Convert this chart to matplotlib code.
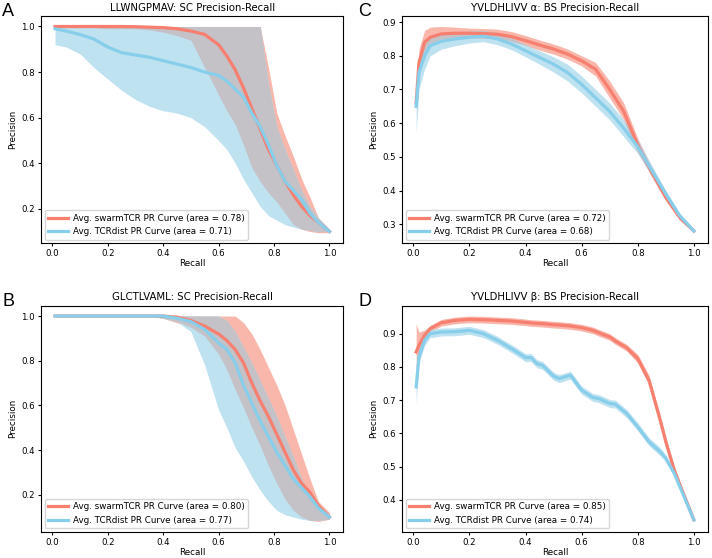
import numpy as np
import matplotlib
matplotlib.use("Agg")
import matplotlib.pyplot as plt

# ---- panel A: LLWNGPMAV (SC) ----
rec_a = [0.01, 0.05, 0.1, 0.15, 0.2, 0.25, 0.3, 0.35, 0.4, 0.45, 0.5, 0.55,
         0.6, 0.63, 0.66, 0.69, 0.72, 0.75, 0.78, 0.81, 0.84, 0.87, 0.9, 0.93, 0.96, 1.0]
swarm_a = [1.0, 1.0, 1.0, 1.0, 1.0, 1.0, 0.999, 0.997, 0.995, 0.99, 0.98, 0.965,
           0.92, 0.87, 0.81, 0.73, 0.64, 0.55, 0.46, 0.39, 0.32, 0.26, 0.21, 0.17, 0.14, 0.10]
swarm_a_lo = [0.995, 0.995, 0.995, 0.995, 0.99, 0.99, 0.99, 0.985, 0.975, 0.96, 0.94, 0.82,
              0.70, 0.63, 0.57, 0.48, 0.38, 0.32, 0.27, 0.23, 0.18, 0.13, 0.11, 0.10, 0.095, 0.095]
swarm_a_hi = [1.0, 1.0, 1.0, 1.0, 1.0, 1.0, 1.0, 1.0, 1.0, 1.0, 1.0, 1.0,
              1.0, 1.0, 1.0, 1.0, 1.0, 1.0, 0.82, 0.62, 0.52, 0.43, 0.33, 0.25, 0.16, 0.11]
tcr_a = [0.99, 0.98, 0.965, 0.945, 0.91, 0.885, 0.875, 0.865, 0.85, 0.835, 0.82, 0.80,
         0.785, 0.76, 0.725, 0.69, 0.62, 0.56, 0.48, 0.39, 0.32, 0.28, 0.24, 0.18, 0.14, 0.10]
tcr_a_lo = [0.92, 0.91, 0.88, 0.82, 0.77, 0.72, 0.68, 0.65, 0.63, 0.62, 0.60, 0.56,
            0.50, 0.46, 0.40, 0.33, 0.27, 0.21, 0.17, 0.15, 0.13, 0.12, 0.11, 0.105, 0.10, 0.10]
tcr_a_hi = [1.0, 1.0, 1.0, 1.0, 1.0, 1.0, 1.0, 1.0, 1.0, 1.0, 1.0, 1.0,
            1.0, 1.0, 1.0, 1.0, 1.0, 1.0, 0.75, 0.56, 0.46, 0.37, 0.28, 0.21, 0.16, 0.11]

# ---- panel B: GLCTLVAML (SC) ----
rec_b = rec_a
swarm_b = [1.0, 1.0, 1.0, 1.0, 1.0, 1.0, 1.0, 1.0, 1.0, 0.995, 0.98, 0.955,
           0.92, 0.89, 0.85, 0.79, 0.70, 0.62, 0.55, 0.47, 0.39, 0.31, 0.25, 0.21, 0.15, 0.10]
swarm_b_lo = [1.0, 1.0, 1.0, 1.0, 1.0, 1.0, 1.0, 1.0, 0.99, 0.97, 0.95, 0.91,
              0.83, 0.76, 0.67, 0.59, 0.50, 0.42, 0.33, 0.25, 0.18, 0.13, 0.10, 0.085, 0.08, 0.09]
swarm_b_hi = [1.0, 1.0, 1.0, 1.0, 1.0, 1.0, 1.0, 1.0, 1.0, 1.0, 1.0, 1.0,
              1.0, 1.0, 1.0, 0.97, 0.92, 0.85, 0.77, 0.69, 0.60, 0.49, 0.38, 0.27, 0.17, 0.12]
tcr_b = [1.0, 1.0, 1.0, 1.0, 1.0, 1.0, 1.0, 1.0, 1.0, 0.99, 0.975, 0.94,
         0.88, 0.85, 0.79, 0.69, 0.61, 0.53, 0.46, 0.39, 0.33, 0.27, 0.23, 0.19, 0.14, 0.10]
tcr_b_lo = [1.0, 1.0, 1.0, 1.0, 1.0, 1.0, 1.0, 1.0, 0.99, 0.975, 0.93, 0.78,
            0.58, 0.50, 0.41, 0.35, 0.28, 0.22, 0.17, 0.13, 0.11, 0.10, 0.09, 0.085, 0.085, 0.09]
tcr_b_hi = [1.0, 1.0, 1.0, 1.0, 1.0, 1.0, 1.0, 1.0, 1.0, 1.0, 1.0, 1.0,
            1.0, 0.98, 0.93, 0.86, 0.79, 0.71, 0.63, 0.55, 0.46, 0.37, 0.27, 0.20, 0.15, 0.11]

# ---- panel C: YVLDHLIVV alpha (BS) ----
rec_c = [0.01, 0.02, 0.04, 0.06, 0.1, 0.15, 0.2, 0.25, 0.3, 0.35, 0.4, 0.45,
         0.5, 0.55, 0.6, 0.65, 0.7, 0.75, 0.8, 0.85, 0.9, 0.95, 1.0]
swarm_c = [0.66, 0.78, 0.84, 0.855, 0.865, 0.867, 0.867, 0.866, 0.864, 0.857, 0.845, 0.832,
           0.82, 0.805, 0.785, 0.76, 0.70, 0.635, 0.535, 0.455, 0.38, 0.32, 0.28]
swarm_c_lo = [0.64, 0.74, 0.81, 0.835, 0.848, 0.852, 0.852, 0.851, 0.849, 0.842, 0.83, 0.817,
              0.805, 0.79, 0.77, 0.74, 0.675, 0.61, 0.515, 0.44, 0.37, 0.312, 0.275]
swarm_c_hi = [0.68, 0.82, 0.875, 0.885, 0.887, 0.885, 0.882, 0.881, 0.879, 0.872, 0.86, 0.847,
              0.835, 0.82, 0.80, 0.78, 0.725, 0.66, 0.555, 0.47, 0.39, 0.328, 0.285]
tcr_c = [0.65, 0.75, 0.80, 0.83, 0.843, 0.85, 0.855, 0.858, 0.85, 0.835, 0.815, 0.795,
         0.775, 0.75, 0.715, 0.675, 0.635, 0.585, 0.53, 0.46, 0.39, 0.325, 0.28]
tcr_c_lo = [0.57, 0.70, 0.76, 0.80, 0.82, 0.83, 0.838, 0.842, 0.833, 0.818, 0.797, 0.775,
            0.752, 0.725, 0.69, 0.65, 0.61, 0.56, 0.51, 0.445, 0.38, 0.318, 0.275]
tcr_c_hi = [0.68, 0.79, 0.83, 0.855, 0.862, 0.868, 0.872, 0.874, 0.867, 0.852, 0.833, 0.815,
            0.797, 0.775, 0.74, 0.70, 0.66, 0.61, 0.55, 0.475, 0.40, 0.332, 0.285]

# ---- panel D: YVLDHLIVV beta (BS) ----
rec_d = [0.01, 0.02, 0.04, 0.06, 0.1, 0.15, 0.2, 0.25, 0.3, 0.35, 0.4, 0.42, 0.44, 0.46,
         0.5, 0.52, 0.56, 0.6, 0.64, 0.66, 0.7, 0.72, 0.76, 0.8, 0.84, 0.88, 0.9, 0.93, 0.96, 1.0]
swarm_d = [0.845, 0.865, 0.895, 0.915, 0.933, 0.94, 0.943, 0.942, 0.94, 0.938, 0.934, 0.932,
           0.931, 0.93, 0.927, 0.926, 0.923, 0.918, 0.91, 0.903, 0.89, 0.878, 0.858, 0.825,
           0.76, 0.64, 0.575, 0.49, 0.425, 0.34]
swarm_d_lo = [0.79, 0.84, 0.885, 0.905, 0.923, 0.93, 0.933, 0.932, 0.93, 0.928, 0.924, 0.922,
              0.921, 0.92, 0.917, 0.916, 0.913, 0.908, 0.90, 0.893, 0.88, 0.868, 0.848, 0.812,
              0.745, 0.625, 0.56, 0.48, 0.418, 0.335]
swarm_d_hi = [0.93, 0.905, 0.91, 0.925, 0.943, 0.95, 0.953, 0.952, 0.95, 0.948, 0.944, 0.942,
              0.941, 0.94, 0.937, 0.936, 0.933, 0.928, 0.92, 0.913, 0.90, 0.888, 0.868, 0.838,
              0.775, 0.655, 0.59, 0.50, 0.432, 0.345]
tcr_d = [0.74, 0.83, 0.88, 0.90, 0.905, 0.906, 0.91, 0.90, 0.88, 0.855, 0.828, 0.828, 0.81,
         0.805, 0.772, 0.765, 0.775, 0.73, 0.708, 0.705, 0.69, 0.688, 0.66, 0.62, 0.575,
         0.545, 0.525, 0.48, 0.42, 0.34]
tcr_d_lo = [0.69, 0.81, 0.865, 0.888, 0.893, 0.894, 0.898, 0.888, 0.868, 0.843, 0.816, 0.816,
            0.798, 0.793, 0.76, 0.753, 0.763, 0.718, 0.696, 0.693, 0.678, 0.676, 0.648, 0.608,
            0.563, 0.533, 0.515, 0.47, 0.412, 0.335]
tcr_d_hi = [0.79, 0.85, 0.895, 0.912, 0.917, 0.918, 0.922, 0.912, 0.892, 0.867, 0.84, 0.84,
            0.822, 0.817, 0.784, 0.777, 0.787, 0.742, 0.72, 0.717, 0.702, 0.70, 0.672, 0.632,
            0.587, 0.557, 0.535, 0.49, 0.428, 0.345]

# (letter, title, recall, swarm mean/lo/hi, tcrdist mean/lo/hi, areas, axes box)
panels = [
    ("A", "LLWNGPMAV: SC Precision-Recall", rec_a, swarm_a, swarm_a_lo, swarm_a_hi,
     tcr_a, tcr_a_lo, tcr_a_hi, "0.78", "0.71", [0.058, 0.5645, 0.424, 0.4065]),
    ("C", "YVLDHLIVV \u03b1: BS Precision-Recall", rec_c, swarm_c, swarm_c_lo, swarm_c_hi,
     tcr_c, tcr_c_lo, tcr_c_hi, "0.72", "0.68", [0.565, 0.5645, 0.429, 0.4065]),
    ("B", "GLCTLVAML: SC Precision-Recall", rec_b, swarm_b, swarm_b_lo, swarm_b_hi,
     tcr_b, tcr_b_lo, tcr_b_hi, "0.80", "0.77", [0.058, 0.047, 0.424, 0.405]),
    ("D", "YVLDHLIVV \u03b2: BS Precision-Recall", rec_d, swarm_d, swarm_d_lo, swarm_d_hi,
     tcr_d, tcr_d_lo, tcr_d_hi, "0.85", "0.74", [0.565, 0.047, 0.429, 0.405]),
]

red_line = "#f67f70"
blue_line = "#87ceeb"
red_band = "#f9b6aa"
blue_band = "#bfe2f1"
grey_band = "#c4c1c7"

fig = plt.figure(figsize=(7.12, 5.58), dpi=100)
for (letter, title, rec, sw, sw_lo, sw_hi, tc, tc_lo, tc_hi, a_sw, a_tc, box) in panels:
    ax = fig.add_axes(box)
    # overlap of the two bands shows up grey
    ov_lo = np.maximum(sw_lo, tc_lo)
    ov_hi = np.minimum(sw_hi, tc_hi)
    ax.fill_between(rec, sw_lo, sw_hi, color=red_band, lw=0)
    ax.fill_between(rec, tc_lo, tc_hi, color=blue_band, lw=0)
    ax.fill_between(rec, ov_lo, ov_hi, where=ov_hi > ov_lo, interpolate=True,
                    color=grey_band, lw=0)
    ax.plot(rec, sw, color=red_line, lw=2.3,
            label=f"Avg. swarmTCR PR Curve (area = {a_sw})")
    ax.plot(rec, tc, color=blue_line, lw=2.3,
            label=f"Avg. TCRdist PR Curve (area = {a_tc})")
    ax.set_title(title, fontsize=7.3, pad=4)
    ax.set_xlabel("Recall", fontsize=6.3, labelpad=0.5)
    ax.set_ylabel("Precision", fontsize=6.3, labelpad=3)
    ax.tick_params(labelsize=6.2, length=2.5, pad=2)
    ax.set_xticks([0.0, 0.2, 0.4, 0.6, 0.8, 1.0])
    ax.legend(loc="lower left", fontsize=6.3, handlelength=2.2, handletextpad=0.6,
              borderaxespad=0.4)
    bx = ax.get_position()
    x_letter = 0.003 if letter in "AB" else 0.503
    fig.text(x_letter, bx.y1 + 0.008, letter, fontsize=13,
             family="Liberation Sans", va="center", ha="left")

fig.savefig("out.png", dpi=100)
